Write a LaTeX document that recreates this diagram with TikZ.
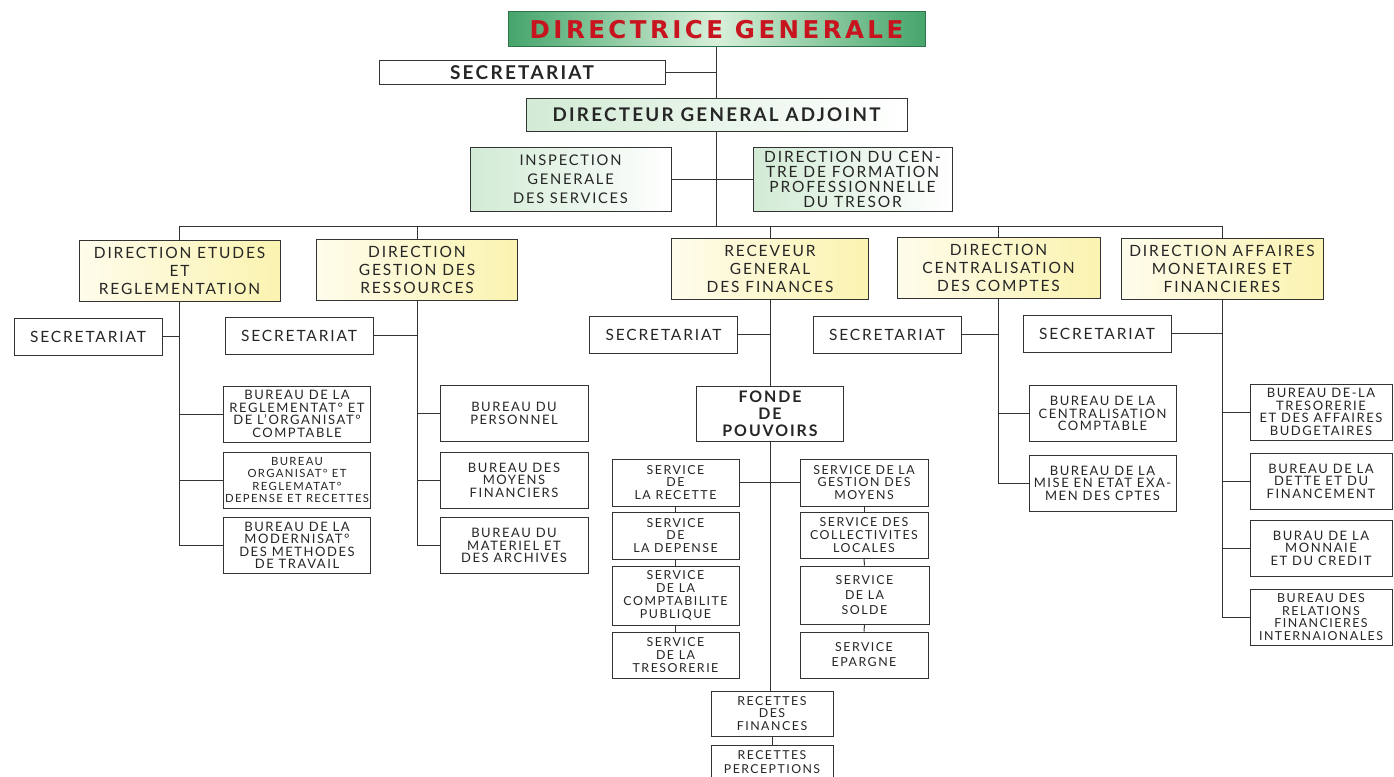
\documentclass[tikz,border=0pt]{standalone}
\usepackage{fontspec}
\setmainfont[LetterSpace=12]{Lato}
\newfontfamily\titlefont[LetterSpace=14]{DejaVu Sans}

\definecolor{dgedge}{HTML}{45A56B}
\definecolor{dgmid}{HTML}{D8F0DA}
\definecolor{dgred}{HTML}{C8141E}
\definecolor{palegreen}{HTML}{D2EBD5}
\definecolor{paleyellow}{HTML}{FBF3B0}
\definecolor{linegray}{HTML}{333333}

\newcommand{\orgsize}[2]{\fontsize{#1}{#2}\selectfont}

\begin{document}
\begin{tikzpicture}[x=1pt,y=-1pt,
  box/.style={draw=linegray,line width=1pt,align=center,inner sep=0pt,text=black!85},
  greenbox/.style={box,left color=palegreen,right color=white},
  yellowbox/.style={box,left color=paleyellow!25,right color=paleyellow,
    minimum width=201pt,minimum height=61pt,font=\orgsize{15.5}{18}},
  secbox/.style={box,fill=white,minimum width=148pt,minimum height=37pt,font=\orgsize{15.5}{17}},
  bureau/.style={box,fill=white,minimum width=147pt,minimum height=56pt,font=\orgsize{13}{12.5}},
  service/.style={box,fill=white,minimum width=127pt,minimum height=47pt,font=\orgsize{12.4}{12.8}},
  link/.style={draw=linegray,line width=1pt}]

\useasboundingbox (0,0) rectangle (1394,776);

% Direction generale
\node[box,draw=dgedge!70!black,left color=dgedge,right color=dgedge,middle color=dgmid,
  minimum width=417pt,minimum height=35pt,text=dgred,font=\titlefont\bfseries\orgsize{24.5}{26}]
  (dg) at (716.5,29.5) {DIRECTRICE GENERALE};
\node[box,fill=white,minimum width=286pt,minimum height=23pt,font=\bfseries\orgsize{19}{20}]
  (sec0) at (522,72.5) {SECRETARIAT};
\node[greenbox,minimum width=381pt,minimum height=33pt,font=\bfseries\orgsize{18.8}{20}]
  (dga) at (716.5,114.5) {DIRECTEUR GENERAL ADJOINT};
\node[greenbox,minimum width=201pt,minimum height=64pt,font=\orgsize{14.7}{19}]
  (igs) at (570.5,179) {INSPECTION\\GENERALE\\DES SERVICES};
\node[greenbox,minimum width=199pt,minimum height=64pt,font=\orgsize{15.5}{15}]
  (dcfp) at (852.5,179) {DIRECTION DU CEN-\\TRE DE FORMATION\\PROFESSIONNELLE\\DU TRESOR};
\coordinate (bar) at (716.5,226);

\draw[link] (dg.south) -- (dga.north);
\draw[link] (sec0.east) -- (sec0.east -| dg.south);
\draw[link] (dga.south) -- (bar);
\draw[link] (igs.east) -- (dcfp.west);

% Directions
\node[yellowbox] (der) at (179.5,270.5) {DIRECTION ETUDES\\ET\\REGLEMENTATION};
\node[yellowbox] (dgr) at (417,269.5) {DIRECTION\\GESTION DES\\RESSOURCES};
\node[yellowbox,minimum width=197pt] (rgf) at (770,268.5) {RECEVEUR\\GENERAL\\DES FINANCES};
\node[yellowbox,minimum width=203pt] (dcc) at (998.5,267.5) {DIRECTION\\CENTRALISATION\\DES COMPTES};
\node[yellowbox,minimum width=202pt] (dama) at (1222,268.5) {DIRECTION AFFAIRES\\MONETAIRES ET\\FINANCIERES};

\draw[link] (der.north) -- (der.north |- bar) -- (dama.north |- bar) -- (dama.north);
\foreach \n in {dgr,rgf,dcc}
  \draw[link] (\n.north) -- (\n.north |- bar);

% Secretariats
\node[secbox] (s1) at (88,336.5) {SECRETARIAT};
\node[secbox] (s2) at (299,335.5) {SECRETARIAT};
\node[secbox] (s3) at (663.5,334.5) {SECRETARIAT};
\node[secbox] (s4) at (887,334.5) {SECRETARIAT};
\node[secbox] (s5) at (1097,333.5) {SECRETARIAT};

\draw[link] (s1.east) -- (s1.east -| der.south);
\draw[link] (s2.east) -- (s2.east -| dgr.south);
\draw[link] (s3.east) -- (s3.east -| rgf.south);
\draw[link] (s4.east) -- (s4.east -| dcc.south);
\draw[link] (s5.east) -- (s5.east -| dama.south);

% Etudes et reglementation
\node[bureau] (bE1) at (297,414) {BUREAU DE LA\\REGLEMENTAT° ET\\DE L'ORGANISAT°\\COMPTABLE};
\node[bureau,font=\orgsize{11.3}{12.5}] (bE2) at (297,480) {BUREAU\\ORGANISAT° ET\\REGLEMATAT°\\DEPENSE ET RECETTES};
\node[bureau] (bE3) at (297,545.5) {BUREAU DE LA\\MODERNISAT°\\DES METHODES\\DE TRAVAIL};

\draw[link] (der.south) |- (bE3.west);
\foreach \n in {bE1,bE2}
  \draw[link] (\n.west) -- (\n.west -| der.south);

% Gestion des ressources
\node[bureau,minimum width=148pt] (bG1) at (514,413.5) {BUREAU DU\\PERSONNEL};
\node[bureau,minimum width=148pt] (bG2) at (514,480) {BUREAU DES\\MOYENS\\FINANCIERS};
\node[bureau,minimum width=148pt] (bG3) at (514,545.5) {BUREAU DU\\MATERIEL ET\\DES ARCHIVES};

\draw[link] (dgr.south) |- (bG3.west);
\foreach \n in {bG1,bG2}
  \draw[link] (\n.west) -- (\n.west -| dgr.south);

% Receveur general
\node[bureau,minimum height=55pt,font=\bfseries\orgsize{15.9}{17}] (fdp) at (770,413.5) {FONDE\\DE\\POUVOIRS};
\node[service] (sR1) at (675.5,482.5) {SERVICE\\DE\\LA RECETTE};
\node[service] (sR2) at (675.5,535.5) {SERVICE\\DE\\LA DEPENSE};
\node[service,minimum height=59pt] (sR3) at (675.5,595.5) {SERVICE\\DE LA\\COMPTABILITE\\PUBLIQUE};
\node[service,minimum height=46pt] (sR4) at (675.5,655) {SERVICE\\DE LA\\TRESORERIE};
\node[service,minimum width=128pt] (sM1) at (864,482.5) {SERVICE DE LA\\GESTION DES\\MOYENS};
\node[service,minimum width=128pt,minimum height=46pt] (sM2) at (864,535) {SERVICE DES\\COLLECTIVITES\\LOCALES};
\node[service,minimum width=129pt,minimum height=58pt,font=\orgsize{12.4}{15}] (sM3) at (864.5,595) {SERVICE\\DE LA\\SOLDE};
\node[service,minimum width=128pt,minimum height=46pt,font=\orgsize{12.4}{15}] (sM4) at (864,655) {SERVICE\\EPARGNE};
\node[service,minimum width=122pt,minimum height=45pt] (rf) at (772,713.5) {RECETTES\\DES\\FINANCES};
\node[service,minimum width=122pt,minimum height=34pt,font=\orgsize{12.3}{13.5}] (rp) at (772,762) {RECETTES\\PERCEPTIONS};

\draw[link] (rgf.south) -- (fdp.north);
\draw[link] (fdp.south) -- (fdp.south |- rf.north);
\draw[link] (sR1.east) -- (sM1.west);
\foreach \a/\b in {sR1/sR2,sR2/sR3,sR3/sR4,sM1/sM2,sM2/sM3,sM3/sM4}
  \draw[link] (\a.south) -- (\b.north);
\draw[link] (rf.south) -- (rp.north);

% Centralisation des comptes
\node[bureau] (bC1) at (1102.5,413.5) {BUREAU DE LA\\CENTRALISATION\\COMPTABLE};
\node[bureau] (bC2) at (1102.5,483) {BUREAU DE LA\\MISE EN ETAT EXA-\\MEN DES CPTES};

\draw[link] (dcc.south) |- (bC2.west);
\draw[link] (bC1.west) -- (bC1.west -| dcc.south);

% Affaires monetaires et financieres
\node[bureau,minimum width=142pt] (bA1) at (1321,412) {BUREAU DE-LA\\TRESORERIE\\ET DES AFFAIRES\\BUDGETAIRES};
\node[bureau,minimum width=142pt] (bA2) at (1321,481) {BUREAU DE LA\\DETTE ET DU\\FINANCEMENT};
\node[bureau,minimum width=142pt] (bA3) at (1321,548) {BURAU DE LA\\MONNAIE\\ET DU CREDIT};
\node[bureau,minimum width=142pt,font=\orgsize{12.4}{12.5}] (bA4) at (1321,617) {BUREAU DES\\RELATIONS\\FINANCIERES\\INTERNAIONALES};

\draw[link] (dama.south) |- (bA4.west);
\foreach \n in {bA1,bA2,bA3}
  \draw[link] (\n.west) -- (\n.west -| dama.south);

\end{tikzpicture}
\end{document}
